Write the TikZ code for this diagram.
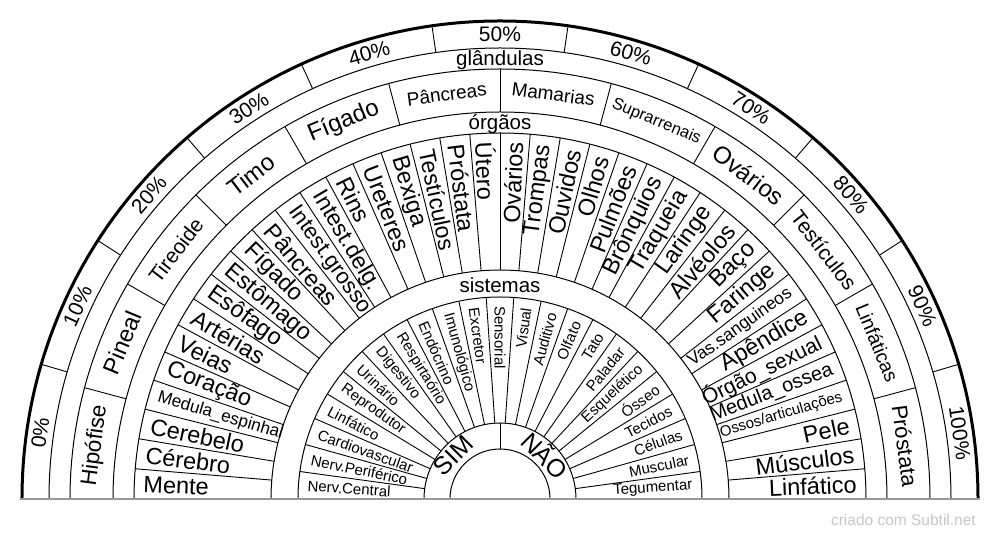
\documentclass[tikz,border=0pt]{standalone}
\usepackage{fontspec}
\setmainfont{Liberation Sans}
\usetikzlibrary{positioning}
\newcommand{\fsz}[1]{\fontsize{#1}{#1}\selectfont}
\tikzset{
  ringline/.style={line width=1pt},
  divline/.style={line width=0.9pt},
  lbl/.style={inner sep=0pt},
  organlbl/.style={lbl},
  syslbl/.style={lbl, font=\fsz{15}},
  pctlbl/.style={lbl, font=\fsz{21}},
  caption/.style={lbl, font=\fsz{20.5}}
}

\begin{document}
\begin{tikzpicture}[x=1pt,y=1pt]
    \useasboundingbox (-500,-41) rectangle (500,499);

    % draw the rings
    \foreach \r in {50,76,202,229,366,387,430,451}
        \draw[ringline] (\r,0) arc[start angle=0,end angle=180,radius=\r pt];
    \draw[line width=3pt] (478,0) arc[start angle=0,end angle=180,radius=478pt];

    % draw the base line
    \draw[line width=2pt,gray!80] (-479.5,0) -- (479.5,0);

    % draw the dividers
    \foreach \k in {1,...,10}
        \draw[divline] ({180-\k*180/11}:451) -- ({180-\k*180/11}:478);
    \foreach \k in {1,...,11}
        \draw[divline] ({\k*15}:387) -- ({\k*15}:430);
    \foreach \k in {1,...,37}
        \draw[divline] ({\k*180/38}:229) -- ({\k*180/38}:366);
    \foreach \k in {1,...,22}
        \draw[divline] ({\k*180/23}:76) -- ({\k*180/23}:202);
    \draw[divline] (90:50) -- (90:76);

    % label the percentages
    \foreach \p [count=\k from 0] in {0,10,...,100}
        \node[pctlbl, rotate={90-(\k+0.5)*180/11}] (pct-\k) at ({180-(\k+0.5)*180/11}:464.5) {\p\%};

    % label the glands
    \foreach \g/\s [count=\k] in {Hipófise/22.5, Pineal/23.5, Tireoide/21, Timo/24,
        Fígado/24, Pâncreas/19, Mamarias/19, Suprarrenais/16.5, Ovários/24,
        Testículos/21, Linfáticas/19.5, Próstata/22}
        \node[lbl, font=\fsz{\s}, rotate={97.5-\k*15}] (gland-\k) at ({187.5-\k*15}:408.5) {\g};

    % label the organs (left half)
    \foreach \o/\s [count=\k] in {Mente/23.5, Cérebro/23.5, Cerebelo/23.5, Medula\_espinhal/17.2,
        Coração/23.5, Veias/23.5, Artérias/23.5, Esôfago/23.5, Estômago/23.5, Fígado/23.5,
        Pâncreas/23.5, Intest.grosso/22, Intest.delg./23, Rins/23.5, Ureteres/23.5,
        Bexiga/23.5, Testículos/23, Próstata/23.5, Útero/23.5}
        \node[organlbl, font=\fsz{\s}, anchor=west, rotate={-(\k-0.5)*180/38}] (organ-\k)
            at ({180-(\k-0.5)*180/38}:357) {\o};

    % label the organs (right half)
    \foreach \o/\s [count=\k from 20] in {Ovários/23.5, Trompas/23.5, Ouvidos/23.5, Olhos/23.5,
        Pulmões/23.5, Brônquios/23.5, Traqueia/23.5, Laringe/23.5, Alvéolos/23.5, Baço/23.5,
        Faringe/23.5, Vas.sanguineos/17.5, Apêndice/23.5, Órgão\_sexual/21, Medula\_ossea/20,
        {Ossos/articulações}/15, Pele/23.5, Músculos/23.5, Linfático/23.5}
        \node[organlbl, font=\fsz{\s}, anchor=east, rotate={180-(\k-0.5)*180/38}] (organ-\k)
            at ({180-(\k-0.5)*180/38}:357) {\o};

    % label the systems
    \foreach \t [count=\k] in {Nerv.Central, Nerv.Periférico, Cardiovascular, Linfático,
        Reprodutor, Urinário, Digestivo, Respirtaório, Endócrino, Imunológico,
        Excretor, Sensorial}
        \node[syslbl, anchor=west, rotate={-(\k-0.5)*180/23}] (sys-\k)
            at ({180-(\k-0.5)*180/23}:193) {\t};
    \foreach \t [count=\k from 13] in {Visual, Auditivo, Olfato, Tato, Paladar,
        Esquelético, Ósseo, Tecidos, Células, Muscular, Tegumentar}
        \node[syslbl, anchor=east, rotate={180-(\k-0.5)*180/23}] (sys-\k)
            at ({180-(\k-0.5)*180/23}:193) {\t};

    % yes / no
    \node[lbl, font=\fsz{25}, rotate=45] (sim) at (137:64) {SIM};
    \node[lbl, font=\fsz{25}, rotate=-45] (nao) at (44:64) {NÃO};

    % ring captions
    \node[caption] (cap-glands) at (90:439) {glândulas};
    \node[caption] (cap-organs) at (90:375) {órgãos};
    \node[caption] (cap-systems) at (90:214) {sistemas};

    \node[lbl, anchor=east, text=gray!45, font=\fsz{15.5}] (credit) at (476,-21) {criado com Subtil.net};
\end{tikzpicture}
\end{document}
